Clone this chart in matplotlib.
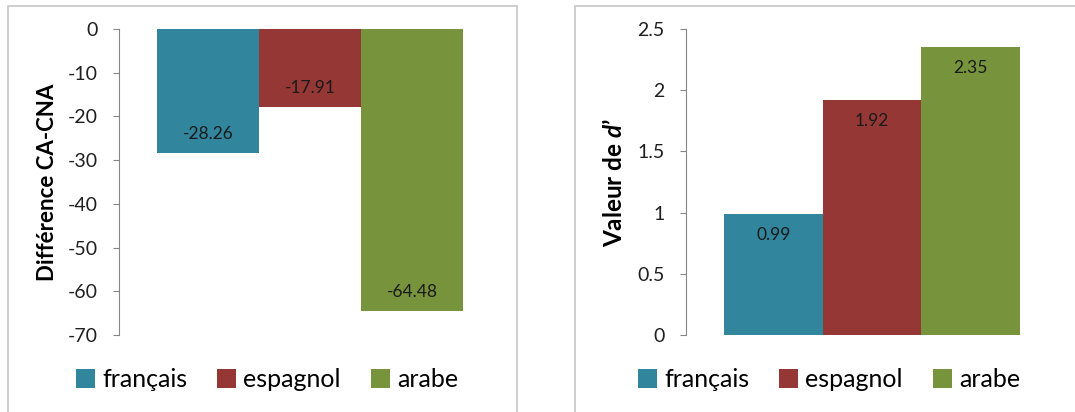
import matplotlib
matplotlib.use("Agg")
import matplotlib.pyplot as plt
from matplotlib.patches import Patch, Rectangle

plt.rcParams['font.family'] = ['Lato', 'DejaVu Sans']
plt.rcParams['mathtext.fontset'] = 'custom'
plt.rcParams['mathtext.it'] = 'Lato:italic:bold'
plt.rcParams['mathtext.rm'] = 'Lato:bold'

langues = ["français", "espagnol", "arabe"]
diff_ca_cna = [-28.26, -17.91, -64.48]
d_prime = [0.99, 1.92, 2.35]
couleurs = ["#31859C", "#953735", "#77933C"]

fig = plt.figure(figsize=(10.75, 4.12), dpi=100)

# cadres gris autour des deux graphiques
W, H = 1075, 412
for x0, x1 in [(8, 517), (575, 1090)]:
    fig.patches.append(Rectangle((x0 / W, -0.1), (x1 - x0) / W, 1.1 - 6 / H,
                                 transform=fig.transFigure, fill=False,
                                 edgecolor="#c6c6c6", linewidth=1.2))


def panneau(rect, valeurs, ylim, yticks, ylabel, ytick_fmt, marge, legend_x,
            neg, label_size):
    ax = fig.add_axes(rect)
    xs = [-1, 0, 1]
    for x, v, c, nom in zip(xs, valeurs, couleurs, langues):
        ax.bar(x, v, width=1.0, color=c, label=nom)
        off = 19 if neg else -21
        ax.annotate(f"{v:.2f}", (x, v), xytext=(0, off), textcoords="offset pixels",
                    ha="center", va="center", fontsize=12.5, color="#1a1a1a")
    ax.set_xlim(-1.5 - marge, 1.5 + marge)
    ax.set_ylim(*ylim)
    ax.set_yticks(yticks)
    ax.set_yticklabels([ytick_fmt(t) for t in yticks])
    ax.set_xticks([])
    for s in ["top", "right", "bottom"]:
        ax.spines[s].set_visible(False)
    ax.spines["left"].set_color("#868686")
    ax.tick_params(axis="y", length=4.5, color="#868686", labelsize=14,
                   labelcolor="#1f1f1f", pad=11)
    ax.set_ylabel(ylabel, fontsize=label_size, fontweight="bold", color="black")
    ax.yaxis.set_label_coords(-0.16, 0.5)
    handles = [Patch(facecolor=c, label=n) for c, n in zip(couleurs, langues)]
    fig.legend(handles=handles, loc="center", bbox_to_anchor=(legend_x, 0.078),
               ncol=3, frameon=False, fontsize=18, handlelength=0.75,
               handleheight=0.75, handletextpad=0.3, columnspacing=1.2)
    return ax


panneau([119 / W, 1 - 335 / H, 382 / W, 306 / H], diff_ca_cna, (-70, 0),
        list(range(-70, 1, 10)), "Différence CA-CNA", lambda t: f"{t:d}",
        0.373, 267 / W, True, 16)
panneau([686 / W, 1 - 335 / H, 372 / W, 306 / H], d_prime, (0, 2.5),
        [0, 0.5, 1, 1.5, 2, 2.5], "Valeur de $d$’", lambda t: f"{t:g}",
        0.384, 829 / W, False, 17.5)

fig.savefig("out.png", dpi=100)
